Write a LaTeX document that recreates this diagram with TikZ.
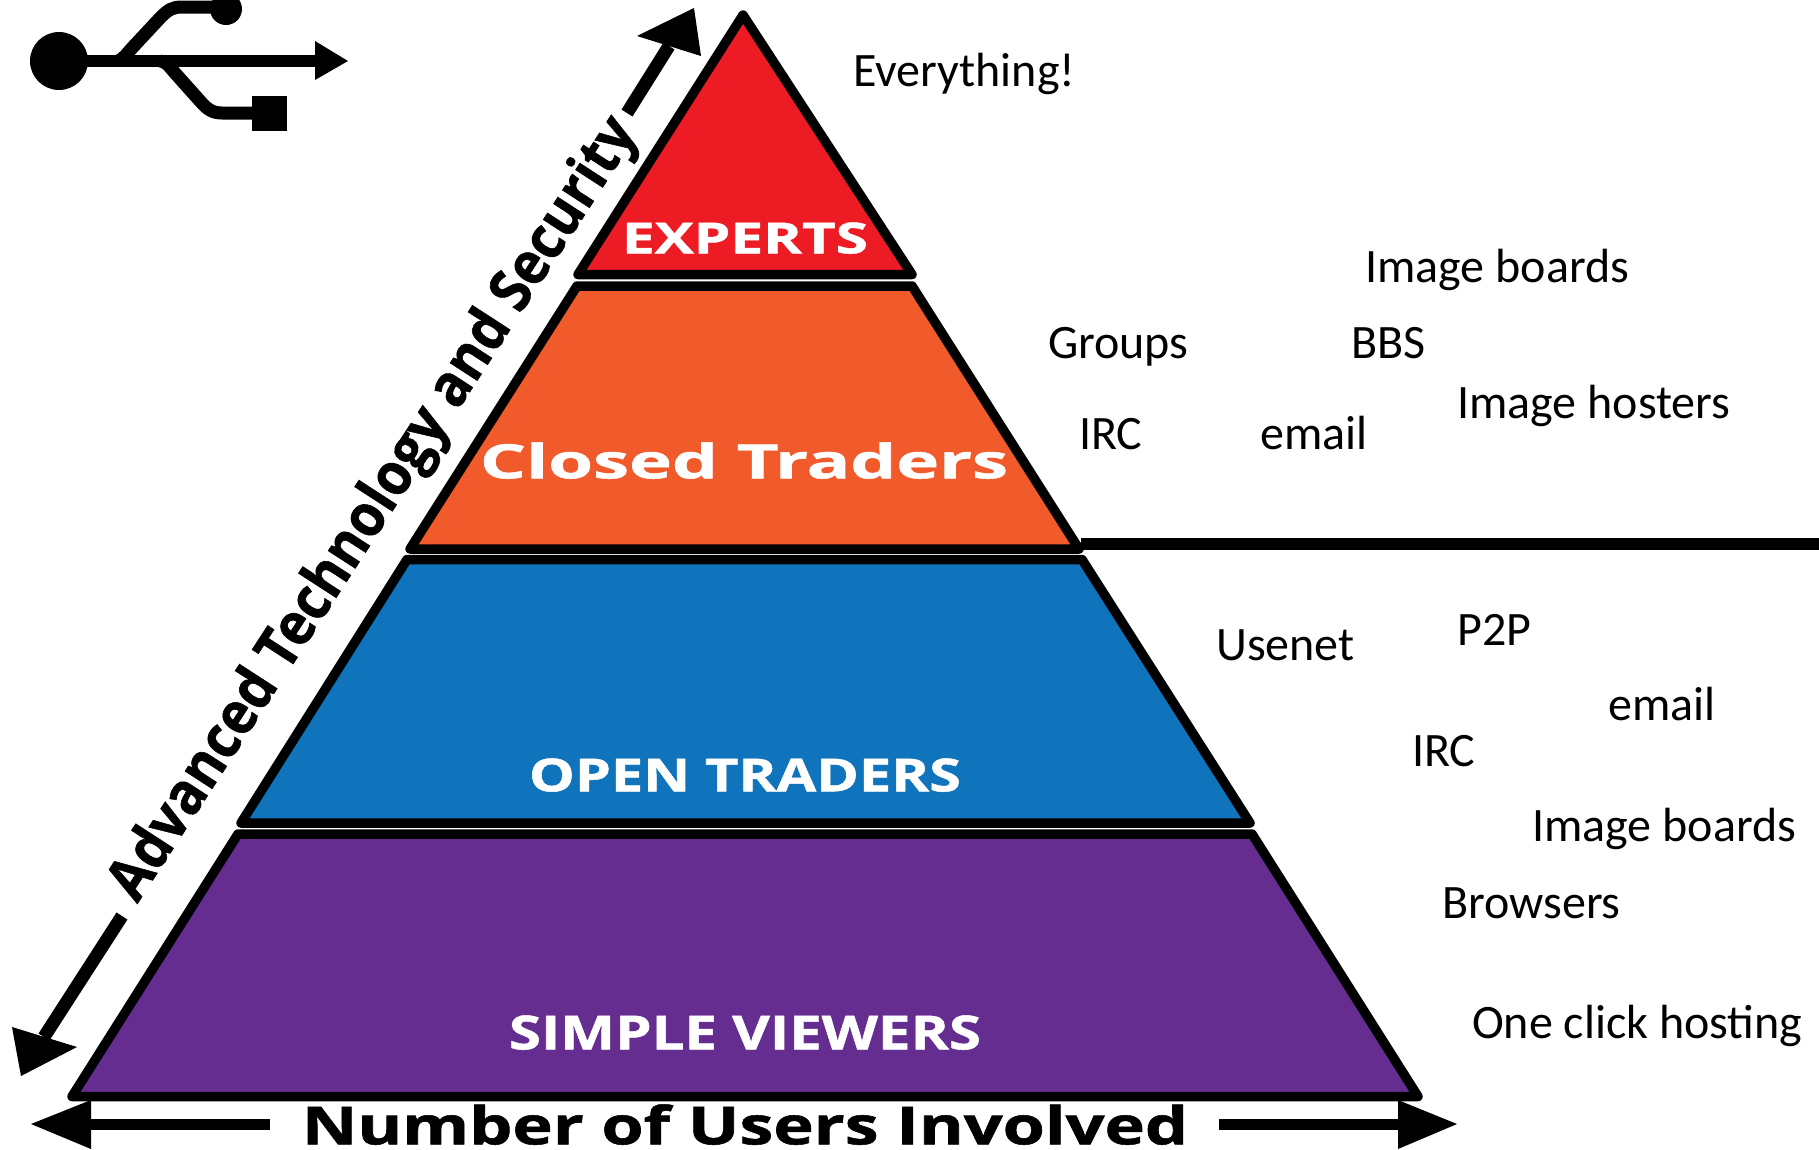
\documentclass[tikz,border=0pt]{standalone}
\usepackage{fontspec}
\usepackage{graphicx}
\setmainfont{Carlito}
\newfontfamily\boldlab{Open Sans}[BoldFont={Open Sans Bold},BoldFeatures={FakeBold=1}]
\definecolor{pyrred}{HTML}{ED1C24}
\definecolor{pyrorange}{HTML}{F15A2B}
\definecolor{pyrblue}{HTML}{1074BC}
\definecolor{pyrpurple}{HTML}{652D90}
\tikzset{
  band/.style={draw=black,line width=9.5pt,line join=round},
  bandlabel/.style={text=white,font=\boldlab\bfseries,inner sep=0pt,anchor=south},
  side/.style={font=\fontsize{48}{48}\selectfont,inner sep=0pt,anchor=base west,text=black},
  axislabel/.style={font=\boldlab\bfseries,inner sep=0pt,text=black},
  shaft/.style={draw=black,line width=#1},
}
\begin{document}
\begin{tikzpicture}[x=1pt,y=-1pt]
\useasboundingbox (0,0) rectangle (1819,1149);
% pyramid
\fill[pyrred,band] (743,15) -- (912,274.5) -- (578,274.5) -- cycle;
\fill[pyrorange,band] (577,286) -- (912,286) -- (1079,549) -- (410,549) -- cycle;
\fill[pyrblue,band] (407,559.5) -- (1082,559.5) -- (1250,823) -- (241,823) -- cycle;
\fill[pyrpurple,band] (238,834) -- (1252,834) -- (1418,1096.5) -- (72,1096.5) -- cycle;
% band labels
\node[bandlabel] (experts) at (745,254) {\resizebox{246pt}{31pt}{EXPERTS}};
\node[bandlabel] (closed) at (744,479) {\resizebox{528pt}{36pt}{Closed Traders}};
\node[bandlabel] (open) at (745,792) {\resizebox{432pt}{33pt}{OPEN TRADERS}};
\node[bandlabel] (simple) at (745,1050) {\resizebox{472pt}{34pt}{SIMPLE VIEWERS}};
% divider
\coordinate (divL) at (1081,544);
\coordinate (divR) at (1819,544);
\draw[shaft=12pt] (divL) -- (divR);
% side texts
\node[side] (t1) at (853,86) {Everything!};
\node[side] (t2) at (1365,282) {Image boards};
\node[side] (t3) at (1048,358) {Groups};
\node[side] (t4) at (1351,358) {BBS};
\node[side] (t5) at (1457,418) {Image hosters};
\node[side] (t6) at (1079,449) {IRC};
\node[side] (t7) at (1260,449) {email};
\node[side] (t8) at (1216,660) {Usenet};
\node[side] (t9) at (1457,645) {P2P};
\node[side] (t10) at (1608,720) {email};
\node[side] (t11) at (1412,766) {IRC};
\node[side] (t12) at (1532,841) {Image boards};
\node[side] (t13) at (1442,918) {Browsers};
\node[side] (t14) at (1472,1038) {One click hosting};
% bottom axis
\node[axislabel,anchor=south] (users) at (745,1145) {\resizebox{886pt}{40pt}{Number of Users Involved}};
\coordinate (uL) at (91,1124);
\coordinate (uLs) at (270,1124);
\coordinate (uR) at (1398,1124);
\coordinate (uRs) at (1219,1124);
\draw[shaft=11pt] (uL) -- (uLs);
\draw[shaft=11pt] (uR) -- (uRs);
\fill (31,1124) -- (91,1100) -- (91,1149) -- cycle;
\fill (1457,1124) -- (1398,1100) -- (1398,1149) -- cycle;
% slanted axis
\node[axislabel,rotate=57,anchor=south] (adv) at (400,526) {\resizebox{920pt}{45pt}{Advanced Technology and Security}};
\coordinate (a1) at (627,113);
\coordinate (a2) at (669,46);
\draw[shaft=13pt] (a1) -- (a2);
\fill (694,8) -- (637,36) -- (701,56) -- cycle;
\coordinate (b1) at (122,916);
\coordinate (b2) at (44,1037);
\draw[shaft=13pt] (b1) -- (b2);
\fill (21,1076) -- (12,1027) -- (77,1047) -- cycle;
% usb symbol
\begin{scope}
\clip (0,0) rectangle (1819,1149);
\fill (59,61) circle (29);
\draw[shaft=12pt] (59,61) -- (320,61);
\fill (348,61) -- (315,41) -- (315,80) -- cycle;
\draw[shaft=13pt] (118,61) .. controls (124,59) and (128,52) .. (133,47) -- (160,18) .. controls (168,10) and (172,7) .. (182,7) -- (226,7);
\fill (226,9) circle (16);
\draw[shaft=13pt] (160,61) .. controls (168,62) and (170,68) .. (175,73) -- (200,101) .. controls (207,109) and (212,113) .. (222,113) -- (256,113);
\fill (252,96) rectangle (287,131);
\end{scope}
\end{tikzpicture}
\end{document}
